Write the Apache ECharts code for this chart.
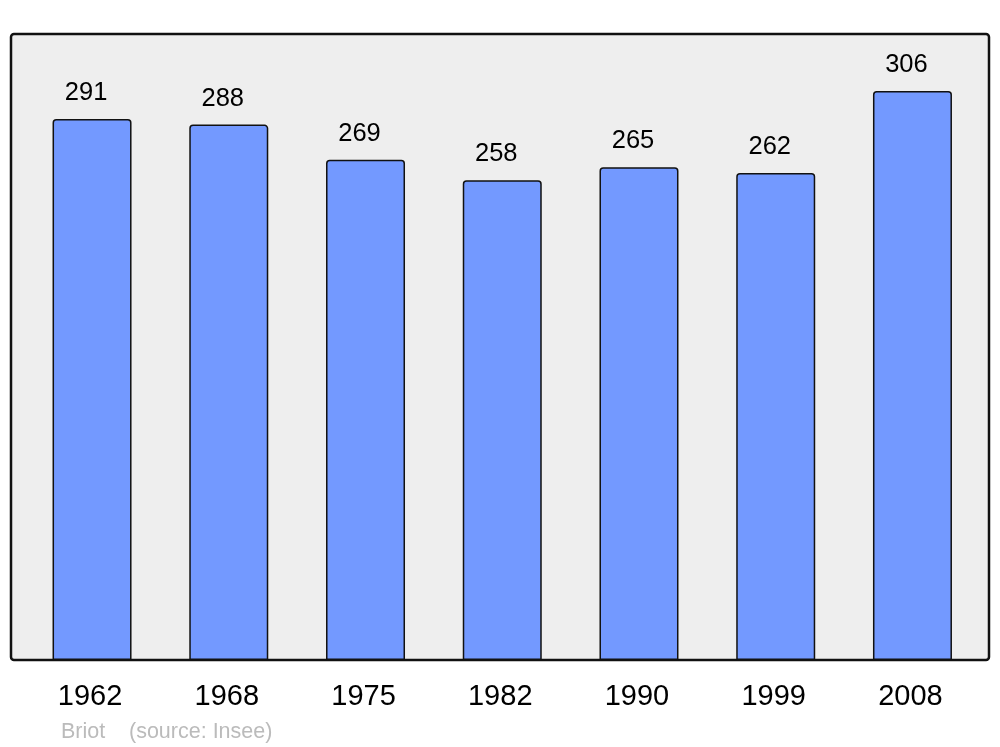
<!DOCTYPE html>
<html>
<head>
<meta charset="utf-8">
<script src="https://cdn.jsdelivr.net/npm/echarts@6/dist/echarts.min.js"></script>
<style>html,body{margin:0;padding:0;background:#fff}#c{width:1000px;height:747px}</style>
</head>
<body>
<div id="c"></div>
<script>
const years = ['1962', '1968', '1975', '1982', '1990', '1999', '2008'];
const population = [291, 288, 269, 258, 265, 262, 306];
const footerAuthor = 'Briot';
const footerSource = '(source: Insee)';

const chart = echarts.init(document.getElementById('c'), null, {renderer: 'canvas'});
chart.setOption({
  animation: false,
  backgroundColor: '#ffffff',
  textStyle: {fontFamily: 'Liberation Sans, Arial, sans-serif'},
  graphic: [
    {type: 'rect', z: 0, shape: {x: 11, y: 34, width: 978, height: 626, r: 3},
     style: {fill: '#eeeeee', stroke: '#111', lineWidth: 2.5}},
    {type: 'text', z: 5, left: 61, top: 721,
     style: {text: footerAuthor, fill: '#bbbbbb', font: '21.5px "Liberation Sans", Arial, sans-serif'}},
    {type: 'text', z: 5, left: 129, top: 721,
     style: {text: footerSource, fill: '#bbbbbb', font: '21.5px "Liberation Sans", Arial, sans-serif'}}
  ],
  grid: {left: 23.67, right: 19.17, top: 34, bottom: 87, containLabel: false},
  xAxis: {
    type: 'category', data: years,
    axisLine: {show: false}, axisTick: {show: false},
    axisLabel: {color: '#000', fontSize: 29, margin: 22, padding: [0, 4, 0, 0], fontFamily: 'Liberation Sans'}
  },
  yAxis: {type: 'value', min: 0, max: 336.7, show: false, splitLine: {show: false}},
  series: [{
    type: 'bar', data: population, barWidth: 79, z: 2,
    itemStyle: {color: '#7399ff', borderColor: '#111', borderWidth: 1.5, borderRadius: [3, 3, 0, 0]},
    label: {show: true, position: 'top', distance: 13, offset: [-6, 0], color: '#000', fontSize: 25.5, fontFamily: 'Liberation Sans'}
  }]
});
</script>
</body>
</html>
